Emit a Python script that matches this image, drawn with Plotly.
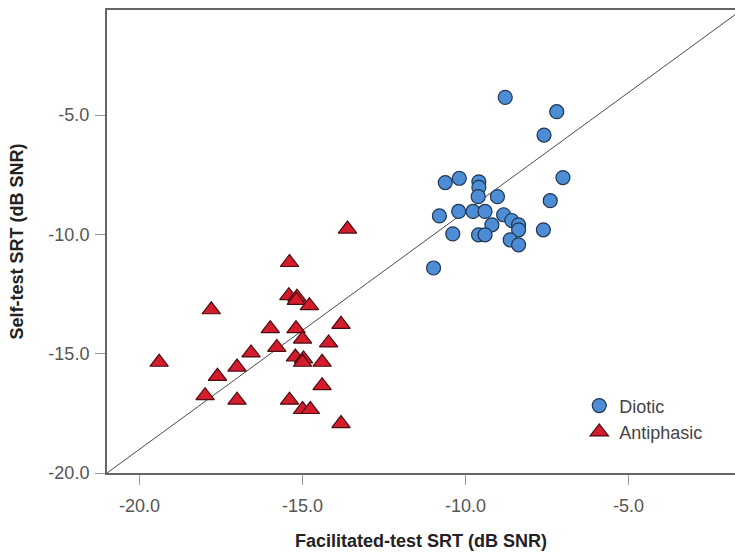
import plotly.graph_objects as go

# Diotic (blue circles)
diotic_x = [-8.78, -7.20, -7.59, -7.01, -7.40, -10.62, -10.19, -9.59, -9.59, -9.61, -9.02,
            -10.80, -10.21, -9.77, -9.40, -8.83, -8.58, -8.37, -9.19, -8.37, -7.61,
            -10.39, -9.60, -9.40, -8.63, -8.37, -10.98]
diotic_y = [-4.26, -4.86, -5.84, -7.62, -8.59, -7.83, -7.65, -7.80, -8.03, -8.42, -8.42,
            -9.23, -9.04, -9.04, -9.04, -9.18, -9.42, -9.60, -9.60, -9.81, -9.81,
            -9.98, -10.02, -10.02, -10.23, -10.44, -11.41]

# Antiphasic (red triangles)
anti_x = [-13.62, -15.40, -15.42, -15.17, -15.19, -14.79, -17.80, -13.82, -15.99, -15.20,
          -15.00, -14.20, -15.79, -16.58, -15.22, -14.97, -15.00, -14.40, -19.40, -17.01,
          -17.61, -14.40, -17.99, -17.01, -15.40, -15.00, -14.76, -13.82]
anti_y = [-9.78, -11.18, -12.57, -12.63, -12.77, -12.99, -13.16, -13.77, -13.95, -13.95,
          -14.39, -14.55, -14.74, -14.97, -15.14, -15.22, -15.36, -15.36, -15.36, -15.56,
          -15.95, -16.34, -16.76, -16.95, -16.95, -17.34, -17.34, -17.93]

# Reference line
line_x = [-21.0, -1.73]
line_y = [-20.0, -0.80]

x_ticks = [-20, -15, -10, -5]
x_ticktext = ["-20.0", "-15.0", "-10.0", "-5.0"]
y_ticks = [-20, -15, -10, -5]
y_ticktext = ["-20.0", "-15.0", "-10.0", "-5.0"]

fig = go.Figure()
fig.add_trace(go.Scatter(x=line_x, y=line_y, mode="lines",
                         line=dict(color="#4a4a4a", width=1), showlegend=False,
                         hoverinfo="skip"))
fig.add_trace(go.Scatter(x=diotic_x, y=diotic_y, mode="markers", name="Diotic",
                         marker=dict(symbol="circle", size=14, color="#4d8dd6",
                                     line=dict(color="#1f3552", width=1.2))))
fig.add_trace(go.Scatter(x=anti_x, y=anti_y, mode="markers", name="Antiphasic",
                         marker=dict(symbol="triangle-up", size=16, color="#d41c2c",
                                     line=dict(color="#4a0c10", width=1.2))))

tickfont = dict(family="Liberation Sans, Arial", size=18, color="#555555")
titlefont = dict(family="Liberation Sans, Arial", size=18, color="#222222", weight="bold")

fig.update_layout(
    width=735, height=554,
    margin=dict(l=107, r=0, t=10, b=81),
    paper_bgcolor="white", plot_bgcolor="white",
    xaxis=dict(range=[-21.0, -1.73], tickvals=x_ticks, ticktext=x_ticktext,
               showgrid=False, zeroline=False, showline=True, linecolor="#666666",
               linewidth=2, mirror=True, ticks="outside", ticklen=10, tickcolor="#999999",
               tickwidth=1, tickfont=tickfont, automargin=False, ticklabelstandoff=5,
               title=dict(text="Facilitated-test SRT (dB SNR)", font=titlefont, standoff=20)),
    yaxis=dict(range=[-20.0, -0.6], tickvals=y_ticks, ticktext=y_ticktext,
               showgrid=False, zeroline=False, showline=True, linecolor="#666666",
               linewidth=2, mirror=False, ticks="outside", ticklen=10, tickcolor="#999999",
               tickwidth=1, tickfont=tickfont, automargin=False, ticklabelstandoff=2,
               title=dict(text="Self-test SRT (dB SNR)", font=titlefont, standoff=20)),
    legend=dict(x=0.752, y=0.185, xanchor="left", yanchor="top",
                font=dict(family="Liberation Sans, Arial", size=18, color="#444444"),
                bgcolor="rgba(0,0,0,0)", tracegroupgap=0),
)

# remove the default page margin so the 735x554 figure fills the window exactly
fig.write_html("out.html",
               config={"displayModeBar": False},
               post_script="document.body.style.margin='0';document.body.style.overflow='hidden';")
